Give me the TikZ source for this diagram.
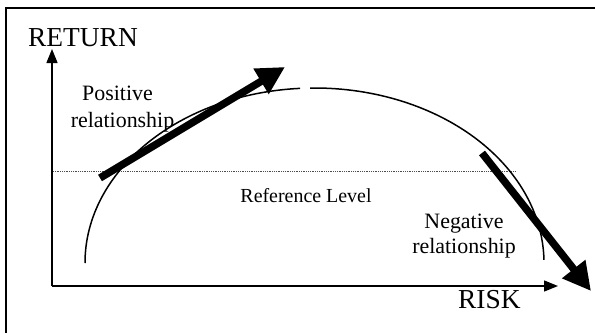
\documentclass[tikz,border=0pt]{standalone}
\usepackage{fontspec}
\setmainfont{Liberation Serif}
\usetikzlibrary{arrows.meta}

\begin{document}
\begin{tikzpicture}[
x=1bp, y=1bp,
axis/.style={line width=1.4bp, -{Triangle[length=14bp, width=11bp]}},
trend/.style={line width=7.5bp, -{Triangle[length=28bp, width=28bp]}},
curve/.style={line width=1.5bp},
biglabel/.style={font=\fontsize{27.5}{32}\selectfont, inner sep=0pt, anchor=base west},
label/.style={font=\fontsize{22}{26}\selectfont, inner sep=0pt, anchor=base}
]
\useasboundingbox (0,0) rectangle (595,333);
\draw[line width=1.8bp] (6,0) -- (6,325) -- (595,325);

\coordinate (origin) at (52,47);
\coordinate (ytop) at (52,284);
\coordinate (xend) at (558,47);
\draw[axis] (origin) -- (ytop);
\draw[axis] (origin) -- (xend);

\node[biglabel] (ret) at (28,287) {RETURN};
\node[biglabel] (risk) at (458,25) {RISK};

% reference level
\coordinate (ref1) at (53,162);
\coordinate (ref2) at (515,162);
\draw[densely dotted, line width=0.8bp, black!70] (ref1) -- (ref2);
\node[label, font=\fontsize{20}{24}\selectfont] (reflevel) at (306,131) {Reference Level};

% risk-return curve
\draw[curve] (85,70) arc[start angle=180, end angle=93.6, x radius=229.5, y radius=175];
\draw[curve] (314.5,70) ++(91.1:229.5 and 175) arc[start angle=91.1, end angle=1, x radius=229.5, y radius=175];

\coordinate (p1) at (100,155);
\coordinate (p2) at (285,266);
\coordinate (n1) at (482,180);
\coordinate (n2) at (591,42);
\draw[trend] (p1) -- (p2);
\draw[trend] (n1) -- (n2);

\node[label] (pos1) at (117.5,233) {Positive};
\node[label] (pos2) at (122.5,206) {relationship};
\node[label] (neg1) at (464,105) {Negative};
\node[label] (neg2) at (464,80) {relationship};
\end{tikzpicture}
\end{document}
